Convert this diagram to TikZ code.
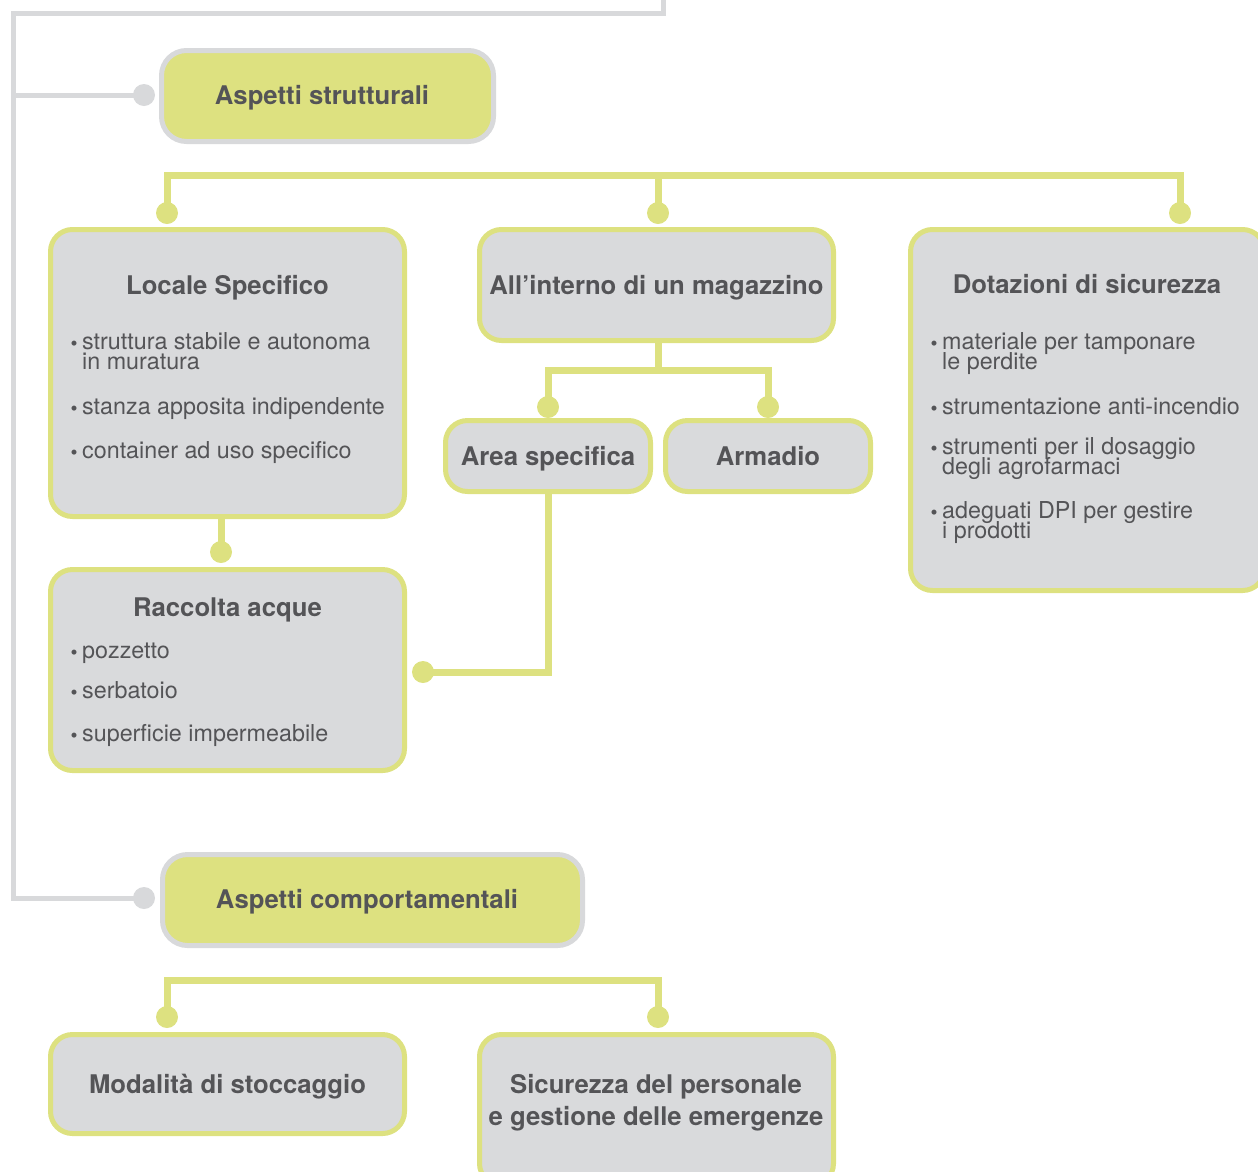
\documentclass[tikz,border=0pt]{standalone}
\usepackage{fontspec}
\setmainfont{TeX Gyre Heros}
\usepackage{tikz}
\definecolor{Ylw}{RGB}{221,225,128}
\definecolor{Gry}{RGB}{217,218,220}
\definecolor{Lne}{RGB}{216,217,219}
\definecolor{Txt}{RGB}{84,84,87}
\newcommand{\bul}{\llap{\raisebox{-1pt}{\fontsize{20}{20}\selectfont •}\hspace{4.5pt}}}

\tikzset{
  cbox/.style={draw=Ylw, fill=Gry, line width=5pt, rounded corners=22pt, inner sep=0pt},
  hbox/.style={draw=Lne, fill=Ylw, line width=5pt, rounded corners=25pt, inner sep=0pt},
  ttl/.style={text=Txt, font=\fontsize{25.7}{32}\selectfont\bfseries, align=center,
              text height=18.5pt, text depth=0pt, inner sep=0pt},
  itm/.style={text=Txt, font=\fontsize{23.3}{24}\selectfont, anchor=mid west, inner sep=0pt},
  yline/.style={draw=Ylw, line width=7pt},
  gline/.style={draw=Lne, line width=5pt},
  ydot/.style={circle, fill=Ylw, minimum size=22pt, inner sep=0pt},
  gdot/.style={circle, fill=Lne, minimum size=22pt, inner sep=0pt},
}

\begin{document}
\begin{tikzpicture}[x=1pt, y=-1pt]
    \useasboundingbox (0,0) rectangle (1258,1171);

    % gray trunk
    \coordinate (gtop) at (663.5,-5);
    \coordinate (gcor) at (13.5,13.5);
    \node[gdot] (g1) at (144,95) {};
    \node[gdot] (g2) at (144,898) {};
    \draw[gline] (gtop) |- (gcor) |- (g2.center);
    \draw[gline] (gcor |- g1) -- (g1.center);

    % headers
    \node[hbox, minimum width=332, minimum height=91] (strutt) at (327.5,96) {};
    \node[hbox, minimum width=420, minimum height=91] (compo) at (372.5,900) {};
    \node[ttl] (strutt-t) at (322,95) {Aspetti strutturali};
    \node[ttl] (compo-t) at (367,899) {Aspetti comportamentali};

    % boxes
    \node[cbox, minimum width=354, minimum height=287] (locale) at (227.5,373) {};
    \node[cbox, ttl, minimum width=354, minimum height=111] (interno) at (656.5,285) {All’interno di un magazzino};
    \node[cbox, minimum width=354, minimum height=361] (dotaz) at (1087.5,410) {};
    \node[cbox, ttl, minimum width=205, minimum height=71] (area) at (548,456) {Area specifica};
    \node[cbox, ttl, minimum width=205, minimum height=71] (armadio) at (768,456) {Armadio};
    \node[cbox, minimum width=354, minimum height=201] (raccolta) at (227.5,670) {};
    \node[cbox, ttl, minimum width=354, minimum height=99] (modal) at (227.5,1084) {Modalità di stoccaggio};
    \node[cbox, minimum width=354, minimum height=151] (sicur) at (656.5,1110) {};

    % titles and bullets
    \node[ttl] (locale-t) at (227.5,285) {Locale Specifico};
    \node[ttl] (dotaz-t) at (1087,284) {Dotazioni di sicurezza};
    \node[ttl] (raccolta-t) at (227.5,607.5) {Raccolta acque};
    \node[ttl, text height=, text depth=] (sicur-t) at (656,1102.5) {Sicurezza del personale\\e gestione delle emergenze};

    \foreach \yy/\txt [count=\i] in {347/\bul struttura stabile e autonoma, 367/in muratura,
        412/\bul stanza apposita indipendente, 456/\bul container ad uso specifico}
        \node[itm] (loc-\i) at (82,\yy) {\txt};
    \foreach \yy/\txt [count=\i] in {656/\bul pozzetto, 696/\bul serbatoio, 739/\bul superficie impermeabile}
        \node[itm] (rac-\i) at (82,\yy) {\txt};
    \foreach \yy/\txt [count=\i] in {347/\bul materiale per tamponare, 367/le perdite,
        412/\bul strumentazione anti-incendio, 452/\bul strumenti per il dosaggio,
        472/degli agrofarmaci, 516/\bul adeguati DPI per gestire, 536/i prodotti}
        \node[itm] (dot-\i) at (942,\yy) {\txt};

    % yellow connectors
    \coordinate (br1) at (658,175.5);
    \coordinate (br2) at (658,370.5);
    \coordinate (br3) at (658,980);
    \node[ydot] (d1) at (167,213) {};
    \node[ydot] (d2) at (658,213) {};
    \node[ydot] (d3) at (1180,213) {};
    \node[ydot] (d4) at (548,407) {};
    \node[ydot] (d5) at (768,407) {};
    \node[ydot] (d6) at (221,552) {};
    \node[ydot] (d7) at (423,672) {};
    \node[ydot] (d8) at (167,1017) {};
    \node[ydot] (d9) at (658,1017) {};
    \draw[yline] (d1.center) |- (br1) -| (d3.center);
    \draw[yline] (br1) -- (d2.center);
    \draw[yline] (br2 |- interno.south) -- (br2);
    \draw[yline] (d4.center) |- (br2) -| (d5.center);
    \draw[yline] (area.south) |- (d7.center);
    \draw[yline] (d6 |- locale.south) -- (d6.center);
    \draw[yline] (d8.center) |- (br3) -- (d9.center);
\end{tikzpicture}
\end{document}
